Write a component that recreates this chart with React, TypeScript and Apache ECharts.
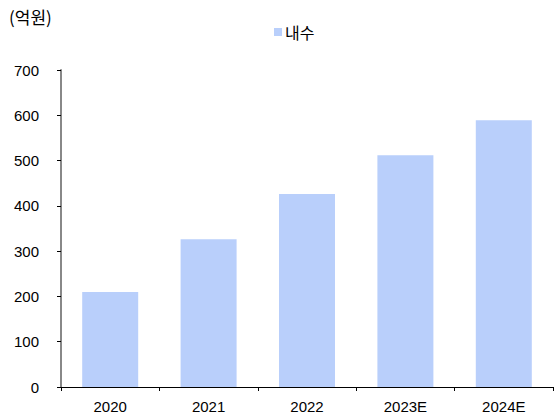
import React, { useEffect, useRef } from "react";
import * as echarts from "echarts";

const categories = ["2020", "2021", "2022", "2023E", "2024E"];
const domesticValues = [210, 326, 426, 512, 589];
const yTicks = [0, 100, 200, 300, 400, 500, 600, 700];
const seriesName = "내수";
const unitLabel = "(억원)";

const FONT = "'Liberation Sans Narrow', 'Liberation Sans', Arial, sans-serif";
const KFONT = "'Noto Sans CJK KR', 'Noto Sans', sans-serif";

export default function App() {
  const ref = useRef<HTMLDivElement>(null);
  useEffect(() => {
    if (!ref.current) return;
    const chart = echarts.init(ref.current, undefined, { renderer: "svg" });
    chart.setOption({
      animation: false,
      grid: { left: 61, right: 1, top: 70, bottom: 29, containLabel: false },
      legend: {
        data: [seriesName],
        left: 269,
        top: 19,
        itemWidth: 8,
        itemHeight: 8,
        itemGap: 4,
        icon: "rect",
        textStyle: { fontFamily: KFONT, fontSize: 16, color: "#000", padding: [0, 0, 0, -2] },
      },
      graphic: [
        {
          type: "text",
          left: 9,
          top: 8,
          style: { text: unitLabel, font: `17px ${KFONT}`, fill: "#000" },
        },
      ],
      xAxis: {
        type: "category",
        data: categories,
        axisLine: { lineStyle: { color: "#000", width: 1 } },
        axisTick: { show: true, alignWithLabel: false, length: 4, lineStyle: { color: "#000" } },
        axisLabel: { margin: 12, fontFamily: FONT, fontSize: 15, color: "#000" },
        splitLine: { show: false },
      },
      yAxis: {
        type: "value",
        min: 0,
        max: 700,
        interval: 100,
        axisLine: { show: true, lineStyle: { color: "#888", width: 2 } },
        axisTick: { show: true, length: 4, lineStyle: { color: "#000" } },
        axisLabel: {
          margin: 22,
          fontFamily: FONT,
          fontSize: 15,
          color: "#000",
          formatter: (v: number) => (yTicks.includes(v) ? String(v) : ""),
        },
        splitLine: { show: false },
      },
      series: [
        {
          name: seriesName,
          type: "bar",
          data: domesticValues,
          barWidth: 56,
          itemStyle: { color: "#B9CFFB" },
        },
      ],
    });
    return () => chart.dispose();
  }, []);
  return <div ref={ref} style={{ width: 554, height: 416, position: "absolute", left: 0, top: 0 }} />;
}
